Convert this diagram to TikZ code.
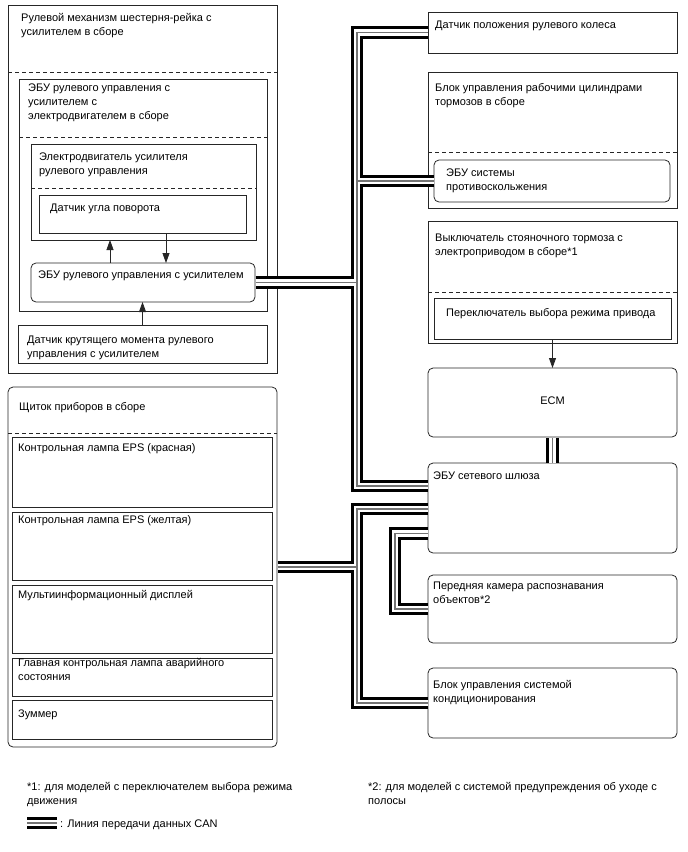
\documentclass[tikz,border=0pt]{standalone}
\usepackage{fontspec}
\setmainfont{Liberation Sans}
\usetikzlibrary{arrows.meta}
\tikzset{
 bx/.style={draw=black!85, line width=0.8pt, anchor=north west, inner sep=0pt, outer sep=0pt},
 rbx/.style={bx, rounded corners=5pt},
 lbl/.style={anchor=north west, inner sep=0pt, align=left, font=\fontsize{11}{14}\selectfont},
 dsh/.style={draw=black!85, line width=0.8pt, dash pattern=on 4pt off 3pt},
 arr/.style={draw=black!85, line width=0.8pt, -{Triangle[length=10pt,width=7pt]}},
 canout/.style={line width=12.5pt, black, line cap=butt},
 canwhite/.style={line width=6.5pt, white, line cap=butt},
 canmid/.style={line width=1.5pt, black!55, line cap=butt},
}
\newcommand\canbus[1]{\draw[canout] #1; \draw[canwhite] #1; \draw[canmid] #1;}
\newcommand\bxat[6][bx]{\node[#1,minimum width=#4-#2,minimum height=#5-#3] (#6) at (#2,#3) {};}
\begin{document}
\begin{tikzpicture}[x=1pt,y=-1pt]
\useasboundingbox (0,0) rectangle (688,852);
% ---- left group
\bxat{8}{5}{277}{373}{A}
\bxat{19}{79}{267}{311}{B}
\bxat{31}{144}{256}{240}{C}
\bxat{39}{195}{246}{233}{D}
\bxat[rbx]{31}{263}{255}{302}{E}
\bxat{18}{325}{267}{363}{F}
\draw[dsh] (8,72) -- (277,72);
\draw[dsh] (19,137) -- (267,137);
\draw[dsh] (31,188) -- (256,188);
\node[lbl] (tA) at (21,11.7) {\strut Рулевой механизм шестерня-рейка с\\усилителем в сборе};
\node[lbl] (tB) at (28,81.5) {\strut ЭБУ рулевого управления с\\усилителем с\\электродвигателем в сборе};
\node[lbl] (tC) at (39,150) {\strut Электродвигатель усилителя\\рулевого управления};
\node[lbl] (tD) at (50,201.5) {\strut Датчик угла поворота};
\node[lbl] (tE) at (38,268.5) {\strut ЭБУ рулевого управления с усилителем};
\node[lbl] (tF) at (27,333) {\strut Датчик крутящего момента рулевого\\управления с усилителем};
\coordinate (xa) at (110,0);
\coordinate (xb) at (166,0);
\draw[arr] (xa |- E.north) -- (xa |- C.south);
\draw[arr] (xb |- D.south) -- (xb |- E.north);
\draw[arr] (F.north) -- (F.north |- E.south);
% ---- cluster
\bxat[rbx]{8}{387}{277}{747}{G}
\draw[dsh] (8,433) -- (277,433);
\bxat{12}{437}{272}{507}{G1}
\bxat{12}{512}{272}{580}{G2}
\bxat{12}{585}{272}{653}{G3}
\bxat{12}{658}{272}{696}{G4}
\bxat{12}{700}{272}{739}{G5}
\node[lbl] (tG) at (19,400) {\strut Щиток приборов в сборе};
\node[lbl] (tG1) at (18,441) {\strut Контрольная лампа EPS (красная)};
\node[lbl] (tG2) at (18,513) {\strut Контрольная лампа EPS (желтая)};
\node[lbl] (tG3) at (18,588) {\strut Мультиинформационный дисплей};
\node[lbl] (tG4) at (18,656) {\strut Главная контрольная лампа аварийного\\состояния};
\node[lbl] (tG5) at (18,707) {\strut Зуммер};
% ---- right group
\bxat{428}{12}{677}{53}{R1}
\bxat{428}{72}{677}{208}{R2}
\draw[dsh] (428,152) -- (677,152);
\bxat[rbx]{434}{160}{670}{202}{R2a}
\bxat{428}{221}{677}{343}{R3}
\draw[dsh] (428,292) -- (677,292);
\bxat{434}{298}{671}{339}{R3a}
\bxat[rbx]{428}{368}{677}{437}{ECM}
\bxat[rbx]{428}{463}{677}{553}{GW}
\bxat[rbx]{428}{575}{677}{643}{CAM}
\bxat[rbx]{428}{668}{677}{738}{AC}
\node[lbl] (tR1) at (435,18) {\strut Датчик положения рулевого колеса};
\node[lbl] (tR2) at (435,81) {\strut Блок управления рабочими цилиндрами\\тормозов в сборе};
\node[lbl] (tR2a) at (446,166) {\strut ЭБУ системы\\противоскольжения};
\node[lbl] (tR3) at (435,231) {\strut Выключатель стояночного тормоза с\\электроприводом в сборе*1};
\node[lbl] (tR3a) at (446,306) {\strut Переключатель выбора режима привода};
\node[font=\fontsize{11}{14}\selectfont, inner sep=0pt] (tECM) at ([yshift=2pt]ECM.center) {ECM};
\node[lbl] (tGW) at (433,469) {\strut ЭБУ сетевого шлюза};
\node[lbl] (tCAM) at (433,579) {\strut Передняя камера распознавания\\объектов*2};
\node[lbl] (tAC) at (433,678) {\strut Блок управления системой\\кондиционирования};
\draw[arr] (R3a.south) -- (ECM.north);
% ---- footnotes
\node[lbl] (n1) at (27,780) {\strut *1: для моделей с переключателем выбора режима\\движения};
\node[lbl] (n2) at (368,780) {\strut *2: для моделей с системой предупреждения об уходе с\\полосы};
\coordinate (lg1) at (27,823);
\coordinate (lg2) at (57,823);
\node[lbl] (tlg) at (60,817) {\strut : Линия передачи данных CAN};
% ---- CAN buses
\coordinate (c1) at (357,486);
\coordinate (c2) at (357,509);
\coordinate (c3) at (395,533.5);
\canbus{([xshift=-0.5pt]R1.west) -| (c1) -- ([xshift=-0.5pt]c1 -| GW.west)
  (R2a.west) -- (R2a.west -| c1)
  ([xshift=0.6pt]E.east) -- (E.east -| c1)}
\canbus{([xshift=-0.5pt]c2 -| GW.west) -- (c2) |- ([xshift=-0.5pt]AC.west)
  ([xshift=0.6pt]G.east) -- (G.east -| c2)}
\canbus{([xshift=-0.5pt]c3 -| GW.west) -- (c3) |- ([xshift=-0.5pt]CAM.west)}
\canbus{([yshift=-0.5pt]ECM.south) -- ([yshift=0.5pt]GW.north)}
\canbus{(lg1) -- (lg2)}
\end{tikzpicture}
\end{document}
